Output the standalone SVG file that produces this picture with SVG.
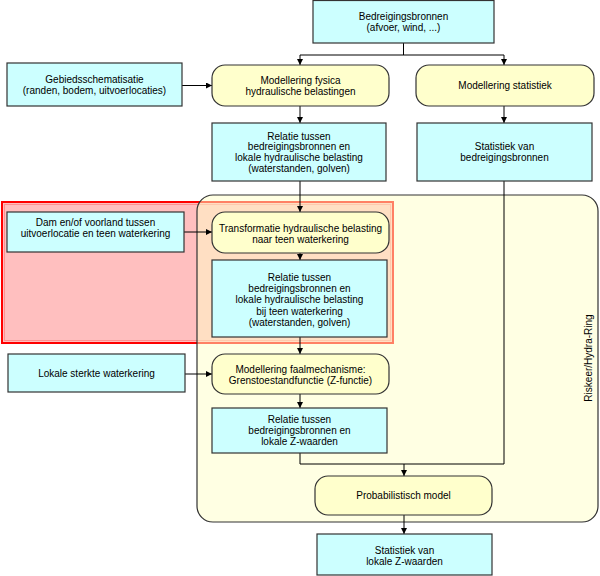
<svg xmlns="http://www.w3.org/2000/svg" width="600" height="576" viewBox="0 0 600 576">
<defs>
<marker id="ah" markerWidth="6" markerHeight="6" refX="6" refY="3" orient="auto" markerUnits="userSpaceOnUse">
<path d="M0,0 L6,3 L0,6 Z" fill="#000"/>
</marker>
<style>
.b{fill:#ccffff;stroke:#333;stroke-width:1.2}
.p{fill:#ffffcc;stroke:#333;stroke-width:1.2}
.t{font-family:"Liberation Sans",Arial,sans-serif;font-size:10px;fill:#000;text-anchor:middle}
.c{fill:none;stroke:#000;stroke-width:1}
.a{marker-end:url(#ah)}
</style>
</defs>
<rect width="600" height="576" fill="#fff"/>
<g id="highlight">
<rect x="2" y="202" width="391" height="141" fill="#ff0000" fill-opacity="0.25" stroke="#ff0000" stroke-width="2"/>
<rect x="4.5" y="204.5" width="386" height="136" fill="none" stroke="#ff9090" stroke-width="1"/>
</g>
<g id="riskeer">
<rect x="197" y="195" width="401" height="327" rx="16" fill="#ffffc8" fill-opacity="0.5" stroke="#333" stroke-width="1.2"/>
<text class="t" transform="translate(592,358) rotate(-90)" y="0">Riskeer/Hydra-Ring</text>
</g>
<g id="connectors">
<path class="c" d="M403.5,43 V55 M300,55 H504"/>
<path class="c a" d="M300,55 V65"/>
<path class="c a" d="M504,55 V65"/>
<path class="c a" d="M182,85.5 H212"/>
<path class="c a" d="M300,106 V123"/>
<path class="c a" d="M504,106 V123"/>
<path class="c a" d="M300,181 V212"/>
<path class="c a" d="M184,232 H212"/>
<path class="c a" d="M300,253 V260"/>
<path class="c a" d="M300,337 V354"/>
<path class="c a" d="M185,374 H212"/>
<path class="c a" d="M300,394 V408"/>
<path class="c" d="M300,453 V464 H504 M504,181 V464"/>
<path class="c a" d="M404,464 V476"/>
<path class="c a" d="M404,515 V534"/>
</g>
<g id="bronnen">
<rect class="b" x="313" y="0.5" width="181" height="42.5"/>
<text class="t" x="403.5" y="19.5">Bedreigingsbronnen</text>
<text class="t" x="403.5" y="30.5">(afvoer, wind, ...)</text>
</g>
<g id="gebied">
<rect class="b" x="7" y="63" width="175" height="43"/>
<text class="t" x="94.5" y="82.5">Gebiedsschematisatie</text>
<text class="t" x="94.5" y="93.5">(randen, bodem, uitvoerlocaties)</text>
</g>
<g id="fysica">
<rect class="p" x="212" y="65" width="177" height="41" rx="13"/>
<text class="t" x="300.5" y="83.5">Modellering fysica</text>
<text class="t" x="300.5" y="94.5">hydraulische belastingen</text>
</g>
<g id="statistiek">
<rect class="p" x="416" y="65" width="178" height="41" rx="13"/>
<text class="t" x="505" y="89">Modellering statistiek</text>
</g>
<g id="relatie1">
<rect class="b" x="212" y="123" width="174" height="58"/>
<text class="t" x="299" y="139.5">Relatie tussen</text>
<text class="t" x="299" y="150.3">bedreigingsbronnen  en</text>
<text class="t" x="299" y="161.1">lokale hydraulische belasting</text>
<text class="t" x="299" y="171.9">(waterstanden, golven)</text>
</g>
<g id="statbronnen">
<rect class="b" x="417" y="123" width="175" height="58"/>
<text class="t" x="504.5" y="150">Statistiek van</text>
<text class="t" x="504.5" y="161">bedreigingsbronnen</text>
</g>
<g id="dam">
<rect class="b" x="7" y="212" width="177" height="40"/>
<text class="t" x="95.5" y="225.5">Dam en/of voorland tussen</text>
<text class="t" x="95.5" y="236.5">uitvoerlocatie en teen waterkering</text>
</g>
<g id="transformatie">
<rect class="p" x="212" y="212" width="177" height="41" rx="13"/>
<text class="t" x="300.5" y="231.8">Transformatie hydraulische belasting</text>
<text class="t" x="300.5" y="242.8">naar teen waterkering</text>
</g>
<g id="relatie2">
<rect class="b" x="212" y="260" width="175" height="77"/>
<text class="t" x="299.5" y="280.8">Relatie tussen</text>
<text class="t" x="299.5" y="292.1">bedreigingsbronnen  en</text>
<text class="t" x="299.5" y="303.4">lokale hydraulische belasting</text>
<text class="t" x="299.5" y="314.7">bij teen waterkering</text>
<text class="t" x="299.5" y="326">(waterstanden, golven)</text>
</g>
<g id="sterkte">
<rect class="b" x="8" y="354" width="177" height="38"/>
<text class="t" x="96.5" y="376.5">Lokale sterkte waterkering</text>
</g>
<g id="faal">
<rect class="p" x="212" y="354" width="177" height="40" rx="13"/>
<text class="t" x="300.5" y="372.5">Modellering faalmechanisme:</text>
<text class="t" x="300.5" y="384">Grenstoestandfunctie (Z-functie)</text>
</g>
<g id="relatie3">
<rect class="b" x="212" y="408" width="175" height="45"/>
<text class="t" x="299.5" y="423">Relatie tussen</text>
<text class="t" x="299.5" y="434">bedreigingsbronnen  en</text>
<text class="t" x="299.5" y="445">lokale Z-waarden</text>
</g>
<g id="prob">
<rect class="p" x="315" y="476" width="177" height="39" rx="13"/>
<text class="t" x="403.5" y="499">Probabilistisch model</text>
</g>
<g id="statz">
<rect class="b" x="317" y="534" width="175" height="41"/>
<text class="t" x="404.5" y="553.5">Statistiek van</text>
<text class="t" x="404.5" y="564.5">lokale Z-waarden</text>
</g>
</svg>
